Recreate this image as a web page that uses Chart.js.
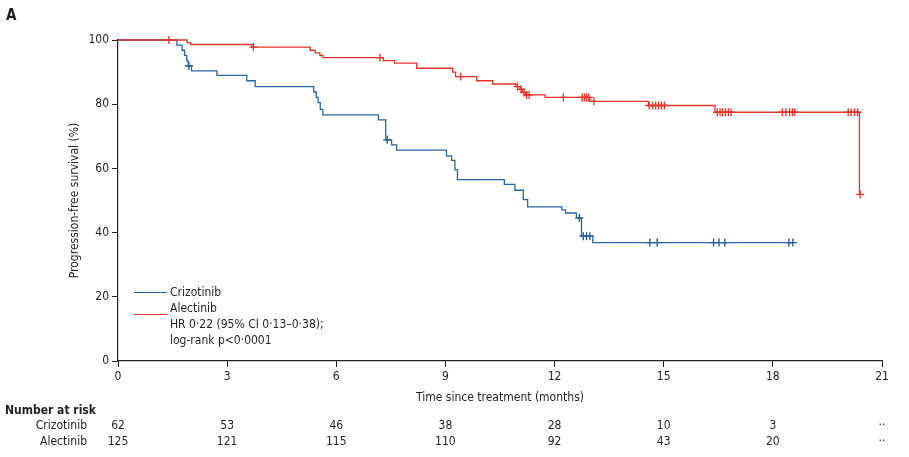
<!DOCTYPE html>
<html><head><meta charset="utf-8">
<script src="https://cdn.jsdelivr.net/npm/chart.js@4.4.1/dist/chart.umd.min.js"></script>
<style>
html,body{margin:0;padding:0;background:#fff;}
#wrap{position:relative;width:909px;height:457px;overflow:hidden;font-family:'DejaVu Sans Condensed','Liberation Sans Narrow',sans-serif;color:#231f20;font-size:12px;}
canvas{position:absolute;left:0;top:0;}
.t{position:absolute;white-space:nowrap;line-height:16px;}
.c{transform:translateX(-50%);}
.r{text-align:right;}
.ln{position:absolute;height:1.3px;}
</style></head><body>
<div id="wrap">
<canvas id="c" width="909" height="457"></canvas>
<div class="t" style="left:6px;top:7px;font-weight:bold;font-size:15px;">A</div>
<div class="ln" style="left:134px;top:292px;width:33px;background:#2a64a8;"></div>
<div class="ln" style="left:134px;top:314px;width:33px;background:#e3342b;"></div>
<div class="t" id="legend" style="left:170px;top:284px;"></div>
<div id="risk"></div>
</div>
<script>
const FONT = "'DejaVu Sans Condensed','Liberation Sans Narrow',sans-serif";
const FS = 12;
const TEXT = '#231f20';
const BLUE = '#2a64a8';
const BLUE_MARK = '#1d4f8f';
const RED = '#e3342b';

const timeTicks = [0, 3, 6, 9, 12, 15, 18, 21];
const survTicks = [0, 20, 40, 60, 80, 100];
const riskGroups = ['Crizotinib', 'Alectinib'];
const riskCrizotinib = ['62', '53', '46', '38', '28', '10', '3', '··'];
const riskAlectinib = ['125', '121', '115', '110', '92', '43', '20', '··'];
const legendLines = ['Crizotinib', 'Alectinib', 'HR 0·22 (95% CI 0·13–0·38);', 'log-rank p<0·0001'];

// Crizotinib Kaplan-Meier steps (time in months, survival %)
const crizoEventTime = [0, 1.62, 1.76, 1.83, 1.89, 1.93, 2.02, 2.72, 3.54, 3.77, 5.38, 5.45, 5.50, 5.56, 5.63, 7.16, 7.36, 7.52, 7.66, 9.03, 9.17, 9.26, 9.33, 10.62, 10.91, 11.14, 11.26, 12.20, 12.30, 12.60, 12.74, 13.05];
const crizoEventSurv = [100, 98.4, 96.8, 95.2, 93.5, 91.9, 90.4, 89.0, 87.3, 85.5, 83.8, 82.1, 80.5, 78.4, 76.7, 75.1, 68.9, 67.3, 65.7, 63.9, 62.5, 59.6, 56.5, 55.0, 53.2, 50.3, 48.0, 47.1, 46.1, 44.6, 38.9, 36.9];
const crizoCensorTime = [1.95, 7.40, 12.68, 12.79, 12.88, 12.97, 14.62, 14.82, 16.37, 16.52, 16.68, 18.44, 18.55];

// Alectinib Kaplan-Meier steps
const alecEventTime = [0, 1.90, 2.00, 3.68, 5.28, 5.42, 5.55, 5.63, 7.29, 7.60, 8.21, 9.20, 9.28, 9.86, 10.30, 10.94, 11.05, 11.12, 11.20, 11.74, 12.97, 14.58, 16.41, 20.38];
const alecEventSurv = [100, 99.2, 98.6, 97.8, 96.8, 96.0, 95.2, 94.5, 93.6, 92.8, 91.2, 90.0, 88.6, 87.3, 86.3, 85.5, 84.6, 83.7, 82.9, 82.1, 80.9, 79.6, 77.5, 51.9];
const alecCensorTime = [1.40, 3.72, 7.20, 9.42, 10.98, 11.08, 11.16, 11.23, 11.30, 12.24, 12.76, 12.82, 12.88, 12.94, 13.08, 14.60, 14.70, 14.78, 14.86, 14.94, 15.02, 16.47, 16.55, 16.62, 16.70, 16.78, 16.85, 18.26, 18.36, 18.46, 18.54, 18.60, 20.07, 20.15, 20.25, 20.33, 20.40];

function survAt(times, surv, t) {
  let s = surv[0];
  for (let i = 0; i < times.length; i++) if (times[i] <= t) s = surv[i];
  return s;
}
function stepLine(times, surv, censor) {
  const pts = times.map((t, i) => ({x: t, y: surv[i]}));
  const last = Math.max(...censor);
  if (last > times[times.length - 1]) pts.push({x: last, y: survAt(times, surv, last)});
  return pts;
}
function censorPts(times, surv, censor) {
  return censor.map(t => ({x: t, y: survAt(times, surv, t)}));
}

function axis(ticksArr, min, max) {
  return {
    type: 'linear', min: min, max: max,
    afterBuildTicks: s => { s.ticks = ticksArr.map(v => ({value: v})); },
    grid: {display: true, drawOnChartArea: false, drawTicks: true, tickLength: 6, color: TEXT, lineWidth: 1},
    border: {display: true, color: TEXT, width: 1.2},
    ticks: {font: {family: FONT, size: FS}, color: TEXT, padding: 3, maxRotation: 0}
  };
}
const xAxis = axis(timeTicks, 0, 21);
xAxis.afterFit = s => { s.height = 44; };
xAxis.title = {display: true, text: 'Time since treatment (months)', font: {family: FONT, size: FS}, color: TEXT, padding: {top: 0, bottom: 0}};
const yAxis = axis(survTicks, 0, 100);
yAxis.afterFit = s => { s.width = 118; };
yAxis.title = {display: true, text: 'Progression-free survival (%)', font: {family: FONT, size: FS}, color: TEXT, padding: {top: 68, bottom: 0}};

let overlayDone = false;
const overlay = {
  id: 'overlay',
  afterRender(chart) {
    if (overlayDone) return;
    overlayDone = true;
    const xs = chart.scales.x;
    const risk = document.getElementById('risk');
    const add = (cls, style, txt) => {
      const d = document.createElement('div');
      d.className = 't ' + cls;
      d.setAttribute('style', style);
      d.textContent = txt;
      risk.appendChild(d);
    };
    add('', 'left:5px;top:402px;font-weight:bold;', 'Number at risk');
    const rows = [riskCrizotinib, riskAlectinib];
    const rowTop = [417, 433];
    rows.forEach((row, r) => {
      add('r', 'right:' + (909 - 87) + 'px;top:' + rowTop[r] + 'px;', riskGroups[r]);
      row.forEach((v, i) => {
        add('c', 'left:' + xs.getPixelForValue(timeTicks[i]) + 'px;top:' + rowTop[r] + 'px;', v);
      });
    });
    document.getElementById('legend').innerHTML = legendLines.map(s => '<div>' + s.replace(/&/g, '&amp;').replace(/</g, '&lt;') + '</div>').join('');
  }
};

new Chart(document.getElementById('c'), {
  type: 'scatter',
  data: {
    datasets: [
      {label: 'Alectinib', data: stepLine(alecEventTime, alecEventSurv, alecCensorTime), showLine: true, stepped: 'before', borderColor: RED, borderWidth: 1.3, pointRadius: 0, fill: false, clip: false},
      {label: 'Alectinib censored', data: censorPts(alecEventTime, alecEventSurv, alecCensorTime), showLine: false, pointStyle: 'cross', pointRadius: 4, borderColor: RED, backgroundColor: RED, borderWidth: 1.3, clip: false},
      {label: 'Crizotinib', data: stepLine(crizoEventTime, crizoEventSurv, crizoCensorTime), showLine: true, stepped: 'before', borderColor: BLUE, borderWidth: 1.3, pointRadius: 0, fill: false, clip: false},
      {label: 'Crizotinib censored', data: censorPts(crizoEventTime, crizoEventSurv, crizoCensorTime), showLine: false, pointStyle: 'cross', pointRadius: 4, borderColor: BLUE_MARK, backgroundColor: BLUE_MARK, borderWidth: 1.3, clip: false}
    ]
  },
  options: {
    responsive: false, animation: false, devicePixelRatio: 1,
    layout: {padding: {left: 0, right: 27, top: 40, bottom: 52}},
    plugins: {legend: {display: false}, tooltip: {enabled: false}},
    scales: {x: xAxis, y: yAxis}
  },
  plugins: [overlay]
});
</script>
</body></html>
